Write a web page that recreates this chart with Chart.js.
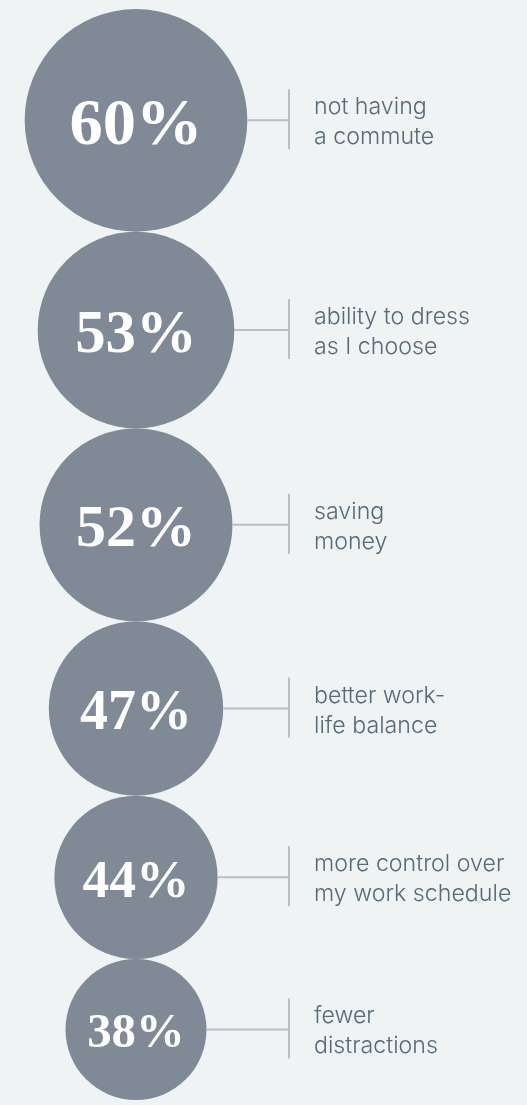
<!DOCTYPE html>
<html lang="en">
<head>
  <title>Remote work benefits</title>
  <meta charset="UTF-8">
  <script src="https://cdn.jsdelivr.net/npm/chart.js"></script>
  <style>
    html, body { margin: 0; padding: 0; background: #eff3f4; }
    #chart { display: block; }
  </style>
</head>
<body>
  <canvas id="chart" width="527" height="1105"></canvas>

  <script>
    // data
    const categories = [
      ['not having', 'a commute'],
      ['ability to dress', 'as I choose'],
      ['saving', 'money'],
      ['better work-', 'life balance'],
      ['more control over', 'my work schedule'],
      ['fewer', 'distractions']
    ];
    const values = [60, 53, 52, 47, 44, 38];

    const W = 527, H = 1105;
    const COL_X = 136;       // column where the circles sit
    const TOP = 9;           // first circle starts here
    const PX_PER_PCT = (H - 2 * 7) / (2 * values.reduce((a, b) => a + b, 0));
    const TICK_X = 289;
    const TEXT_X = 314;

    // circles stack and touch, so each centre follows from the radii above it
    const points = [];
    let cursor = TOP;
    values.forEach(v => {
      const r = v * PX_PER_PCT;
      points.push({ x: COL_X, y: cursor + r, r: r });
      cursor += 2 * r;
    });

    const labelsPlugin = {
      id: 'labels',
      afterDatasetsDraw(chart) {
        const ctx = chart.ctx;
        const meta = chart.getDatasetMeta(0);
        meta.data.forEach((el, i) => {
          const r = el.options.radius;
          const cx = el.x, cy = el.y;

          ctx.save();
          // connector
          ctx.strokeStyle = '#b9bec4';
          ctx.lineWidth = 2;
          ctx.beginPath();
          ctx.moveTo(cx + r, cy);
          ctx.lineTo(TICK_X, cy);
          ctx.moveTo(TICK_X, cy - 31);
          ctx.lineTo(TICK_X, cy + 29);
          ctx.stroke();

          // percentage
          const fs = (0.4 * r + 17) * 1.08;
          ctx.fillStyle = '#ffffff';
          ctx.font = 'bold ' + fs.toFixed(1) + 'px "Liberation Serif", serif';
          ctx.textAlign = 'center';
          ctx.textBaseline = 'alphabetic';
          ctx.fillText(values[i] + '%', cx, cy + 0.36 * fs);

          // category text
          ctx.fillStyle = '#566a78';
          ctx.font = '300 23.2px Inter, "Noto Sans", sans-serif';
          ctx.textAlign = 'left';
          categories[i].forEach((line, j) => {
            ctx.fillText(line, TEXT_X, cy - 6 + j * 30);
          });
          ctx.restore();
        });
      }
    };

    new Chart(document.getElementById('chart'), {
      type: 'bubble',
      data: {
        datasets: [{
          data: points,
          backgroundColor: '#7f8a96',
          borderWidth: 0,
          hoverRadius: 0,
          clip: false
        }]
      },
      options: {
        responsive: false,
        animation: false,
        events: [],
        layout: { padding: 0, autoPadding: false },
        plugins: { legend: { display: false }, tooltip: { enabled: false } },
        scales: {
          x: { type: 'linear', min: 0, max: W, display: false },
          y: { type: 'linear', min: 0, max: H, reverse: true, display: false }
        }
      },
      plugins: [labelsPlugin]
    });
  </script>
</body>
</html>
